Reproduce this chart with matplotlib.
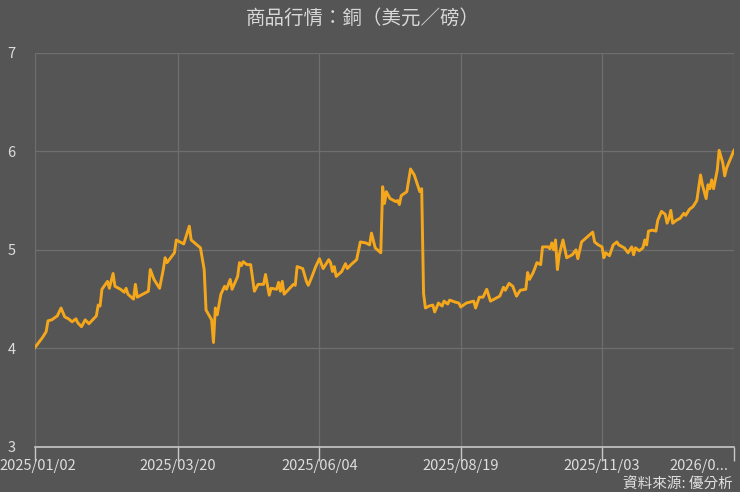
import pandas as pd
import matplotlib
matplotlib.use('Agg')
import matplotlib.pyplot as plt
import matplotlib.dates as mdates

plt.rcParams['font.family'] = ['Noto Sans CJK TC', 'DejaVu Sans']

# 銅價（美元/磅），日期以 2025/01/02 起算的天數
start = '2025-01-02'
days = [0, 4, 6, 7, 9, 12, 14, 16, 18, 20, 22, 23, 25, 27, 29, 31, 33, 34, 35, 36,
        39, 40, 42, 43, 46, 48, 49, 50, 53, 54, 55, 58, 61, 62, 64, 67, 69, 70, 71, 75,
        76, 80, 83, 84, 89, 91, 92, 95, 96, 97, 98, 100, 102, 103, 105, 106, 109, 110, 111, 112,
        114, 116, 118, 120, 123, 124, 126, 127, 130, 131, 132, 133, 134, 137, 139, 140, 141, 144, 146, 147,
        149, 151, 153, 155, 158, 159, 160, 161, 162, 165, 167, 168, 170, 173, 175, 178, 180, 181, 183, 186,
        187, 188, 189, 191, 194, 195, 196, 197, 200, 202, 204, 207, 208, 209, 210, 212, 214, 215, 217, 219,
        220, 222, 223, 226, 228, 229, 232, 236, 237, 239, 241, 243, 245, 248, 250, 252, 253, 255, 257, 259,
        261, 264, 265, 266, 268, 270, 272, 273, 276, 277, 278, 279, 280, 281, 282, 284, 286, 289, 291, 292,
        294, 297, 300, 301, 303, 305, 306, 307, 309, 311, 313, 314, 317, 319, 321, 322, 323, 325, 327, 328,
        329, 330, 332, 334, 335, 337, 339, 340, 341, 342, 343, 345, 347, 349, 350, 352, 354, 356, 358, 359,
        361, 362, 363, 364, 365, 367, 368, 370, 371, 372, 376]
price = [4.01, 4.11, 4.17, 4.28, 4.29, 4.33, 4.41, 4.32, 4.30, 4.27, 4.30, 4.26, 4.22, 4.29, 4.25, 4.29, 4.33, 4.44, 4.43, 4.60,
         4.68, 4.61, 4.76, 4.63, 4.60, 4.57, 4.61, 4.55, 4.50, 4.65, 4.52, 4.55, 4.58, 4.80, 4.70, 4.61, 4.80, 4.92, 4.87, 4.97,
         5.10, 5.06, 5.24, 5.10, 5.02, 4.80, 4.39, 4.29, 4.06, 4.41, 4.34, 4.55, 4.63, 4.60, 4.70, 4.60, 4.73, 4.87, 4.84, 4.88,
         4.85, 4.85, 4.58, 4.65, 4.65, 4.75, 4.54, 4.61, 4.60, 4.67, 4.58, 4.68, 4.55, 4.61, 4.65, 4.64, 4.83, 4.81, 4.68, 4.64,
         4.73, 4.83, 4.91, 4.81, 4.90, 4.87, 4.78, 4.83, 4.73, 4.78, 4.86, 4.81, 4.85, 4.90, 5.08, 5.07, 5.05, 5.17, 5.02, 4.97,
         5.64, 5.47, 5.59, 5.52, 5.49, 5.50, 5.46, 5.55, 5.59, 5.82, 5.76, 5.59, 5.62, 4.56, 4.41, 4.43, 4.44, 4.37, 4.46, 4.43,
         4.48, 4.45, 4.49, 4.47, 4.46, 4.42, 4.46, 4.48, 4.41, 4.52, 4.52, 4.60, 4.48, 4.51, 4.53, 4.62, 4.59, 4.66, 4.63, 4.53,
         4.59, 4.60, 4.77, 4.70, 4.77, 4.87, 4.85, 5.03, 5.03, 5.01, 5.07, 5.00, 5.10, 4.80, 4.95, 5.10, 4.92, 4.95, 5.00, 4.91,
         5.08, 5.13, 5.18, 5.08, 5.05, 5.03, 4.92, 4.97, 4.94, 5.05, 5.08, 5.05, 5.02, 4.97, 5.03, 4.95, 5.02, 4.99, 5.02, 5.10,
         5.05, 5.19, 5.20, 5.19, 5.30, 5.39, 5.36, 5.27, 5.32, 5.40, 5.27, 5.30, 5.32, 5.37, 5.35, 5.41, 5.44, 5.50, 5.76, 5.66,
         5.52, 5.66, 5.62, 5.71, 5.62, 5.81, 6.01, 5.88, 5.75, 5.83, 6.01]
tick_dates = ['2025-01-02', '2025-03-20', '2025-06-04', '2025-08-19', '2025-11-03']
tick_labels = ['2025/01/02', '2025/03/20', '2025/06/04', '2025/08/19', '2025/11/03', '2026/0...']
y_ticks = [3, 4, 5, 6, 7]

dates = pd.to_datetime(start) + pd.to_timedelta(days, unit='D')

bg = '#555555'
fig = plt.figure(figsize=(7.4, 4.92), dpi=100, facecolor=bg)
ax = fig.add_axes([0.0473, 0.0915, 0.9446, 0.8014], facecolor=bg)

ax.plot(dates, price, color='#f5a71c', lw=2.1, zorder=3)

ax.set_xlim(dates[0], dates[-1])
ax.set_ylim(3, 7)
ax.set_yticks(y_ticks)
xt = list(pd.to_datetime(tick_dates)) + [dates[-1]]
ax.set_xticks(xt)
ax.set_xticklabels([])

# x 軸標籤自己畫，首尾往內移一點
ha = ['center'] * (len(xt) - 1) + ['right']
dx = [3] + [0] * (len(xt) - 2) + [-6]
for d, lab, h, off in zip(xt, tick_labels, ha, dx):
    ax.annotate(lab, xy=(mdates.date2num(d), 0), xycoords=('data', 'axes fraction'),
                xytext=(off, -12), textcoords='offset pixels', ha=h, va='top',
                fontsize=10.5, color='#dddddd', annotation_clip=False)

ax.grid(True, color='#6e6e6e', lw=0.9)
for s in ['top', 'right', 'left']:
    ax.spines[s].set_visible(False)
ax.spines['bottom'].set_color('#c8c8c8')
ax.spines['bottom'].set_linewidth(1.2)
ax.tick_params(axis='x', colors='#c8c8c8', length=10, width=1.0)
ax.tick_params(axis='y', length=0, labelsize=10.5, labelcolor='#dddddd', pad=14)

fig.text(0.49, 0.963, '商品行情：銅（美元／磅）', ha='center', va='center',
         fontsize=14, color='#d8d8d8')
fig.text(0.99, 0.015, '資料來源: 優分析', ha='right', va='center',
         fontsize=10.5, color='#e0e0e0')

fig.savefig('out.png', dpi=100, facecolor=bg)
